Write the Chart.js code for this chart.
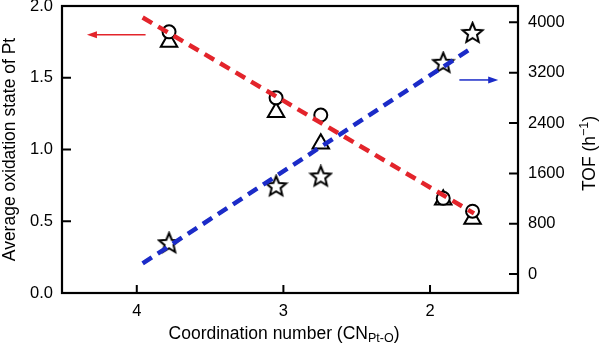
<!DOCTYPE html>
<html>
<head>
<meta charset="utf-8">
<script src="https://cdn.jsdelivr.net/npm/chart.js@4/dist/chart.umd.min.js"></script>
<style>
  html, body { margin: 0; padding: 0; background: #fff; }
  #wrap { width: 600px; height: 345px; position: relative; }
</style>
</head>
<body>
<div id="wrap"><canvas id="cnChart"></canvas></div>
<script>
// Pt oxidation state and TOF against Pt-O coordination number.

const coordNumbers = [3.78, 3.05, 2.745, 1.91, 1.71];
const oxStateCircle = [1.82, 1.36, 1.24, 0.66, 0.57];
const oxStateTriangle = [1.75, 1.26, 1.04, 0.65, 0.515];
const tofStar = [485, 1390, 1545, 3350, 3825];

// linear fits (end points)
const fitX = [3.96, 1.70];
const oxFit = [1.92, 0.555];
const tofFit = [170, 3615];

const cnTicks = [4, 3, 2];
const oxTicks = [0, 0.5, 1.0, 1.5, 2.0];
const tofTicks = [0, 800, 1600, 2400, 3200, 4000];

// axis indicator arrows: [fromX, toX, y, axis]
const oxArrow = [3.94, 4.34, 1.80, "y"];
const tofArrow = [1.80, 1.535, 3085, "y1"];

const RED = "#e3242b";
const BLUE = "#1b2bc8";
const FONT = "'Liberation Sans', Arial, Helvetica, sans-serif";

function toXY(ys) {
  return coordNumbers.map((x, i) => ({ x, y: ys[i] }));
}

function makeStar(outer, inner) {
  const size = Math.ceil(outer * 2 + 4);
  const c = document.createElement("canvas");
  c.width = size;
  c.height = size;
  const g = c.getContext("2d");
  const cx = size / 2, cy = size / 2;
  g.beginPath();
  for (let i = 0; i < 10; i++) {
    const r = i % 2 === 0 ? outer : inner;
    const a = -Math.PI / 2 + (i * Math.PI) / 5;
    const px = cx + r * Math.cos(a), py = cy + r * Math.sin(a);
    if (i === 0) g.moveTo(px, py); else g.lineTo(px, py);
  }
  g.closePath();
  g.fillStyle = "#fff";
  g.fill();
  g.lineWidth = 2;
  g.lineJoin = "miter";
  g.strokeStyle = "#000";
  g.stroke();
  return c;
}

function drawRich(ctx, parts, x, y) {
  // parts: [{ t, sub, sup }], centred on x, baseline middle at y
  const base = "17.5px " + FONT, small = "12.5px " + FONT;
  let w = 0;
  parts.forEach((p) => {
    ctx.font = p.sub || p.sup ? small : base;
    p.w = ctx.measureText(p.t).width;
    w += p.w;
  });
  let cx = x - w / 2;
  ctx.textAlign = "left";
  ctx.textBaseline = "middle";
  parts.forEach((p) => {
    ctx.font = p.sub || p.sup ? small : base;
    const dy = p.sub ? 5 : p.sup ? -5.5 : 0;
    ctx.fillText(p.t, cx, y + dy);
    cx += p.w;
  });
}

function drawArrow(ctx, chart, spec, color) {
  const xs = chart.scales.x, ys = chart.scales[spec[3]];
  const x0 = xs.getPixelForValue(spec[0]);
  const x1 = xs.getPixelForValue(spec[1]);
  const y = ys.getPixelForValue(spec[2]);
  const dir = Math.sign(x1 - x0);
  ctx.save();
  ctx.strokeStyle = color;
  ctx.fillStyle = color;
  ctx.lineWidth = 1.5;
  ctx.beginPath();
  ctx.moveTo(x0, y);
  ctx.lineTo(x1 - dir * 8, y);
  ctx.stroke();
  ctx.beginPath();
  ctx.moveTo(x1, y);
  ctx.lineTo(x1 - dir * 10, y - 3.5);
  ctx.lineTo(x1 - dir * 10, y + 3.5);
  ctx.closePath();
  ctx.fill();
  ctx.restore();
}

const framePlugin = {
  id: "frame",
  afterDraw(chart) {
    const ctx = chart.ctx;
    const a = chart.chartArea;
    ctx.save();
    ctx.strokeStyle = "#000";
    ctx.lineWidth = 2.2;
    ctx.strokeRect(a.left, a.top, a.right - a.left, a.bottom - a.top);

    // inward tick marks
    ctx.lineWidth = 2;
    ctx.beginPath();
    chart.scales.x.ticks.forEach((t) => {
      const px = chart.scales.x.getPixelForValue(t.value);
      ctx.moveTo(px, a.bottom);
      ctx.lineTo(px, a.bottom - 8);
    });
    chart.scales.y.ticks.forEach((t) => {
      const py = chart.scales.y.getPixelForValue(t.value);
      ctx.moveTo(a.left, py);
      ctx.lineTo(a.left + 9, py);
    });
    chart.scales.y1.ticks.forEach((t) => {
      const py = chart.scales.y1.getPixelForValue(t.value);
      ctx.moveTo(a.right, py);
      ctx.lineTo(a.right - 9, py);
    });
    ctx.stroke();

    drawArrow(ctx, chart, oxArrow, RED);
    drawArrow(ctx, chart, tofArrow, BLUE);

    // axis titles
    ctx.fillStyle = "#000";
    const midY = (a.top + a.bottom) / 2;
    ctx.save();
    ctx.translate(10, midY);
    ctx.rotate(-Math.PI / 2);
    drawRich(ctx, [{ t: "Average oxidation state of Pt" }], 0, 0);
    ctx.restore();

    ctx.save();
    ctx.translate(590, midY + 4);
    ctx.rotate(-Math.PI / 2);
    drawRich(ctx, [{ t: "TOF (h" }, { t: "\u22121", sup: true }, { t: ")" }], 0, 0);
    ctx.restore();

    drawRich(
      ctx,
      [{ t: "Coordination number (CN" }, { t: "Pt-O", sub: true }, { t: ")" }],
      (a.left + a.right) / 2 - 6,
      334
    );
    ctx.restore();
  },
};

const tickFont = { family: FONT, size: 16.5 };

// fixed scale sizes, no extra padding for overhanging labels
function fixSize(prop, size) {
  return (s) => {
    s[prop] = size;
    s.paddingTop = 0;
    s.paddingBottom = 0;
    s.paddingLeft = 0;
    s.paddingRight = 0;
  };
}

new Chart(document.getElementById("cnChart"), {
  type: "scatter",
  data: {
    datasets: [
      {
        label: "Oxidation state fit",
        type: "line",
        data: fitX.map((x, i) => ({ x, y: oxFit[i] })),
        yAxisID: "y",
        borderColor: RED,
        borderWidth: 4.5,
        borderDash: [11, 7],
        pointRadius: 0,
        fill: false,
        order: 0,
      },
      {
        label: "TOF fit",
        type: "line",
        data: fitX.map((x, i) => ({ x, y: tofFit[i] })),
        yAxisID: "y1",
        borderColor: BLUE,
        borderWidth: 4.5,
        borderDash: [11, 7],
        pointRadius: 0,
        fill: false,
        order: 1,
      },
      {
        label: "TOF",
        data: toXY(tofStar),
        yAxisID: "y1",
        pointStyle: makeStar(10.5, 4.7),
        pointRadius: 10,
        order: 2,
      },
      {
        label: "Oxidation state (circle)",
        data: toXY(oxStateCircle),
        yAxisID: "y",
        pointStyle: "circle",
        pointRadius: 6.5,
        borderColor: "#000",
        backgroundColor: "#fff",
        borderWidth: 2,
        order: 3,
      },
      {
        label: "Oxidation state (triangle)",
        data: toXY(oxStateTriangle),
        yAxisID: "y",
        pointStyle: "triangle",
        pointRadius: 9.5,
        borderColor: "#000",
        backgroundColor: "rgba(255,255,255,0)",
        borderWidth: 2,
        order: 4,
      },
    ],
  },
  options: {
    responsive: true,
    maintainAspectRatio: false,
    animation: false,
    layout: { autoPadding: false, padding: { top: 6, left: 0, right: 0, bottom: 0 } },
    plugins: { legend: { display: false }, tooltip: { enabled: false } },
    scales: {
      x: {
        type: "linear",
        reverse: true,
        min: 1.4,
        max: 4.51,
        afterBuildTicks: (s) => { s.ticks = cnTicks.map((v) => ({ value: v })); },
        afterFit: fixSize("height", 52),
        grid: { display: false, drawTicks: false },
        border: { display: false },
        ticks: { font: tickFont, color: "#000", padding: 9, callback: (v) => String(v) },
      },
      y: {
        type: "linear",
        position: "left",
        min: 0,
        max: 2,
        afterBuildTicks: (s) => { s.ticks = oxTicks.map((v) => ({ value: v })); },
        afterFit: fixSize("width", 62),
        grid: { display: false, drawTicks: false },
        border: { display: false },
        ticks: { font: tickFont, color: "#000", padding: 9, callback: (v) => v.toFixed(1) },
      },
      y1: {
        type: "linear",
        position: "right",
        min: -300,
        max: 4260,
        afterBuildTicks: (s) => { s.ticks = tofTicks.map((v) => ({ value: v })); },
        afterFit: fixSize("width", 82),
        grid: { display: false, drawTicks: false },
        border: { display: false },
        ticks: { font: tickFont, color: "#000", padding: 10, callback: (v) => String(v) },
      },
    },
  },
  plugins: [framePlugin],
});
</script>
</body>
</html>
